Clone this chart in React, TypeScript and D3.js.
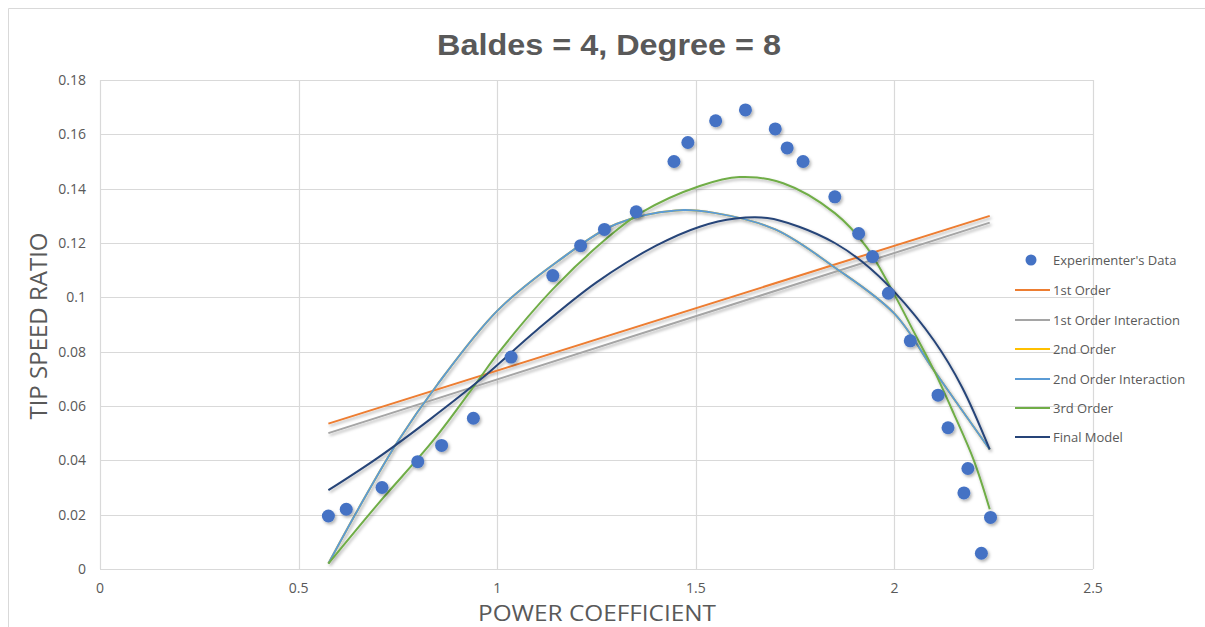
import React from 'react';
import * as d3 from 'd3';

// experimenter's data
const dataX = [0.575, 0.62, 0.71, 0.8, 0.86, 0.94, 1.035, 1.14, 1.21, 1.27, 1.35, 1.445, 1.48, 1.55, 1.625, 1.7, 1.73, 1.77, 1.85, 1.91, 1.945, 1.985, 2.04, 2.11, 2.135, 2.185, 2.175, 2.242, 2.219];
const dataY = [0.0195, 0.022, 0.03, 0.0395, 0.0455, 0.0555, 0.078, 0.108, 0.119, 0.125, 0.1315, 0.15, 0.157, 0.165, 0.169, 0.162, 0.155, 0.15, 0.137, 0.1235, 0.115, 0.1015, 0.084, 0.064, 0.052, 0.037, 0.028, 0.019, 0.0058];

// fitted curves
const firstX = [0.575, 2.24];
const firstOrder = [0.0535, 0.13];
const firstInteraction = [0.05, 0.1275];

const secondX = [0.575, 0.65, 0.75, 0.85, 1.0, 1.15, 1.3, 1.45, 1.55, 1.7, 1.85, 2.0, 2.1, 2.24];
const secondOrder = [0.002, 0.022, 0.047, 0.068, 0.095, 0.113, 0.127, 0.132, 0.131, 0.125, 0.111, 0.094, 0.073, 0.044];
const secondInteraction = [0.002, 0.022, 0.047, 0.068, 0.095, 0.113, 0.127, 0.132, 0.131, 0.125, 0.111, 0.094, 0.073, 0.044];

const thirdX = [0.575, 0.7, 0.84, 0.95, 1.0, 1.14, 1.27, 1.36, 1.51, 1.61, 1.72, 1.85, 1.93, 2.0, 2.05, 2.1, 2.15, 2.2, 2.24];
const thirdOrder = [0.002, 0.024, 0.0475, 0.069, 0.079, 0.103, 0.121, 0.131, 0.141, 0.1443, 0.142, 0.131, 0.1185, 0.101, 0.087, 0.073, 0.057, 0.04, 0.022];

const finalX = [0.575, 0.7, 0.83, 0.96, 1.1, 1.25, 1.4, 1.51, 1.6, 1.68, 1.76, 1.85, 1.92, 2.0, 2.1, 2.17, 2.24];
const finalModel = [0.029, 0.041, 0.055, 0.07, 0.088, 0.1055, 0.119, 0.126, 0.129, 0.1292, 0.126, 0.12, 0.113, 0.102, 0.084, 0.067, 0.044];

const xTicks = [0, 0.5, 1, 1.5, 2, 2.5];
const yTicks = [0, 0.02, 0.04, 0.06, 0.08, 0.1, 0.12, 0.14, 0.16, 0.18];

const series = [
  { name: '1st Order', xs: firstX, ys: firstOrder, color: '#ED7D31' },
  { name: '1st Order Interaction', xs: firstX, ys: firstInteraction, color: '#A5A5A5' },
  { name: '2nd Order', xs: secondX, ys: secondOrder, color: '#FFC000' },
  { name: '2nd Order Interaction', xs: secondX, ys: secondInteraction, color: '#5B9BD5' },
  { name: '3rd Order', xs: thirdX, ys: thirdOrder, color: '#70AD47' },
  { name: 'Final Model', xs: finalX, ys: finalModel, color: '#264478' },
];

const font = "'Open Sans', 'Noto Sans', sans-serif";
const textColor = '#595959';
const gridColor = '#d9d9d9';

export default function App() {
  const W = 1205;
  const H = 627;
  const left = 100, right = 1093, top = 80, bottom = 569;

  const x = d3.scaleLinear().domain([0, 2.5]).range([left, right]);
  const y = d3.scaleLinear().domain([0, 0.18]).range([bottom, top]);

  const line = d3.line<[number, number]>()
    .x(d => x(d[0]))
    .y(d => y(d[1]))
    .curve(d3.curveCatmullRom.alpha(0.5));

  const legendY = [260, 290, 320, 349, 379, 408, 437];

  return (
    <svg width={W} height={H} style={{ position: 'absolute', left: 0, top: 0, background: '#fff' }}>
      <defs>
        <filter id="shadow" x="-20%" y="-20%" width="140%" height="140%">
          <feDropShadow dx="1.5" dy="2" stdDeviation="1.5" floodColor="#000" floodOpacity="0.3" />
        </filter>
      </defs>
      {/* outer frame */}
      <line x1={8.5} x2={W} y1={8.5} y2={8.5} stroke={gridColor} />
      <line x1={8.5} x2={8.5} y1={8.5} y2={H} stroke={gridColor} />

      <text x={609} y={55} textAnchor="middle" fontFamily="'Liberation Sans', Arial, sans-serif"
        fontWeight="bold" fontSize={30} fill={textColor} textLength={344} lengthAdjust="spacingAndGlyphs">
        Baldes = 4, Degree = 8
      </text>

      {/* grid */}
      {yTicks.map(t => (
        <line key={'gy' + t} x1={left} x2={right} y1={Math.round(y(t)) + 0.5} y2={Math.round(y(t)) + 0.5} stroke={gridColor} strokeWidth={1.2} />
      ))}
      {xTicks.map(t => (
        <line key={'gx' + t} x1={Math.round(x(t)) + 0.5} x2={Math.round(x(t)) + 0.5} y1={top} y2={bottom} stroke={gridColor} strokeWidth={1.2} />
      ))}

      {/* tick labels */}
      {yTicks.map(t => (
        <text key={'ty' + t} x={86} y={y(t) + 5} textAnchor="end" fontFamily={font} fontSize={14} fill={textColor}>
          {d3.format('~g')(t)}
        </text>
      ))}
      {xTicks.map(t => (
        <text key={'tx' + t} x={x(t)} y={593} textAnchor="middle" fontFamily={font} fontSize={14} fill={textColor}>
          {d3.format('~g')(t)}
        </text>
      ))}

      <text transform="translate(47,326) rotate(-90)" textAnchor="middle" fontFamily={font} fontSize={24} fill={textColor}>TIP SPEED RATIO</text>
      <text x={597} y={621} textAnchor="middle" fontFamily={font} fontSize={22} fill={textColor} textLength={238} lengthAdjust="spacingAndGlyphs">POWER COEFFICIENT</text>

      {/* fitted lines */}
      <g filter="url(#shadow)">
        {series.map(s => (
          <path key={s.name} d={line(s.xs.map((v, i) => [v, s.ys[i]]) as [number, number][]) || ''}
            fill="none" stroke={s.color} strokeWidth={2} />
        ))}
      </g>

      {/* data points */}
      <g filter="url(#shadow)">
        {dataX.map((v, i) => (
          <circle key={i} cx={x(v)} cy={y(dataY[i])} r={6.5} fill="#4472C4" />
        ))}
      </g>

      {/* legend */}
      <g fontFamily={font} fontSize={13} fill={textColor}>
        <circle cx={1031} cy={legendY[0]} r={5.5} fill="#4472C4" />
        <text x={1053} y={legendY[0] + 5}>Experimenter's Data</text>
        {series.map((s, i) => (
          <g key={s.name}>
            <line x1={1015} x2={1050} y1={legendY[i + 1]} y2={legendY[i + 1]} stroke={s.color} strokeWidth={2} />
            <text x={1053} y={legendY[i + 1] + 5}>{s.name}</text>
          </g>
        ))}
      </g>
    </svg>
  );
}
